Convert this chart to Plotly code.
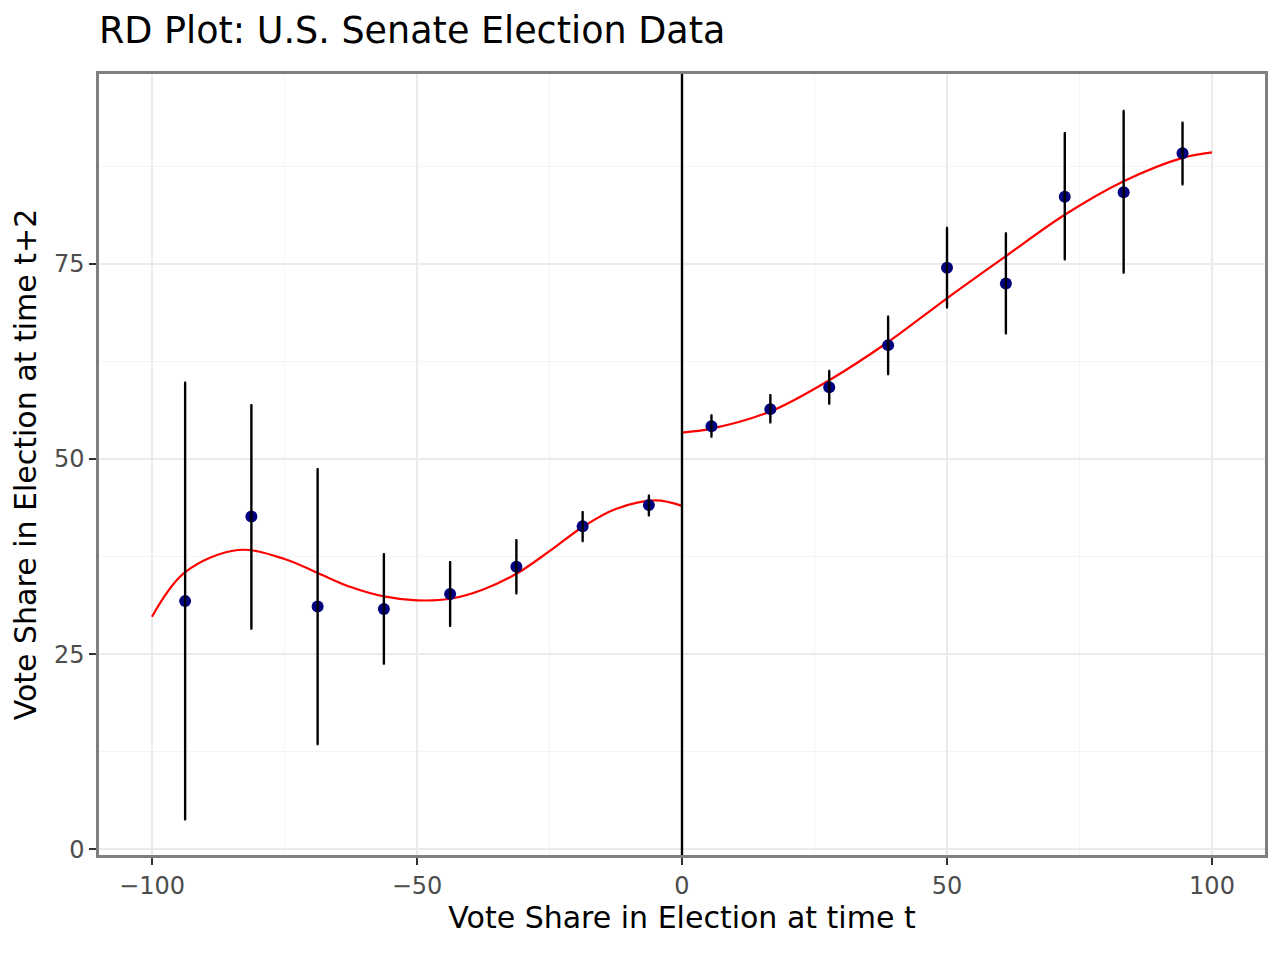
import plotly.graph_objects as go

# ---- data ----
left_x = [-93.75, -81.25, -68.75, -56.25, -43.75, -31.25, -18.75, -6.25]
left_y = [31.8, 42.65, 31.1, 30.8, 32.7, 36.2, 41.4, 44.1]
left_lo = [3.85, 28.3, 13.5, 23.8, 28.65, 32.8, 39.5, 42.8]
left_hi = [59.8, 56.9, 48.7, 37.8, 36.8, 39.6, 43.2, 45.3]

right_x = [5.56, 16.67, 27.78, 38.89, 50.0, 61.11, 72.22, 83.33, 94.44]
right_y = [54.2, 56.4, 59.2, 64.6, 74.5, 72.5, 83.6, 84.2, 89.2]
right_lo = [52.9, 54.7, 57.1, 60.9, 69.45, 66.1, 75.6, 73.9, 85.2]
right_hi = [55.6, 58.2, 61.3, 68.25, 79.6, 78.9, 91.75, 94.6, 93.1]

fit_left_x = [-100, -93.75, -83.75, -75, -68.75, -62.5, -56.25,
              -50, -43.75, -37.5, -31.25, -25, -18.75, -12.5, -5, 0]
fit_left_y = [29.8, 35.5, 38.35, 37.2, 35.4, 33.6, 32.4,
              31.9, 32.1, 33.3, 35.3, 38.2, 41.3, 43.6, 44.7, 44.0]
fit_right_x = [0, 5.56, 16.67, 27.78, 38.89, 50, 61.11, 72.22, 83.33, 94.44, 100]
fit_right_y = [53.4, 53.9, 56.1, 60.1, 65.0, 70.6, 76.0, 81.3, 85.6, 88.6, 89.3]

x_ticks = [-100, -50, 0, 50, 100]
y_ticks = [0, 25, 50, 75]

TITLE = "RD Plot: U.S. Senate Election Data"
XLAB = "Vote Share in Election at time t"
YLAB = "Vote Share in Election at time t+2"

FONT = "DejaVu Sans"

fig = go.Figure()

# fitted curves
for fx, fy in [(fit_left_x, fit_left_y), (fit_right_x, fit_right_y)]:
    fig.add_trace(go.Scatter(x=fx, y=fy, mode="lines",
                             line=dict(color="#ff0000", width=2.2, shape="spline", smoothing=1.0),
                             hoverinfo="skip", showlegend=False))

# binned means (points)
all_x = left_x + right_x
all_y = left_y + right_y
all_lo = left_lo + right_lo
all_hi = left_hi + right_hi
fig.add_trace(go.Scatter(x=all_x, y=all_y, mode="markers",
                         marker=dict(color="#00007f", size=12, line=dict(width=0)),
                         showlegend=False))

# error bars drawn on top of the points
fig.add_trace(go.Scatter(
    x=all_x, y=all_y, mode="markers",
    marker=dict(color="rgba(0,0,0,0)", size=1),
    error_y=dict(type="data", symmetric=False,
                 array=[h - y for h, y in zip(all_hi, all_y)],
                 arrayminus=[y - l for y, l in zip(all_y, all_lo)],
                 color="black", thickness=2.4, width=1),
    showlegend=False, hoverinfo="skip"))

# cutoff line
fig.add_shape(type="line", x0=0, x1=0, xref="x", y0=0, y1=1, yref="paper",
              line=dict(color="black", width=2.4))

axis_common = dict(
    showline=True, mirror=True, linecolor="#7f7f7f", linewidth=2.5,
    ticks="outside", ticklen=7, tickwidth=2, tickcolor="#333333",
    tickfont=dict(family=FONT, size=24, color="#4d4d4d"),
    showgrid=True, gridcolor="#ebebeb", gridwidth=1.5,
    zeroline=False,
)

fig.update_layout(
    width=1280, height=960,
    margin=dict(l=99, r=13, t=74, b=105),
    paper_bgcolor="white", plot_bgcolor="white",
    font=dict(family=FONT, color="black"),
    title=dict(text=TITLE, x=99/1280, xanchor="left", xref="container",
               y=1 - 30/960, yanchor="middle", yref="container",
               font=dict(family=FONT, size=36.5, color="black")),
    xaxis=dict(range=[-110, 110], tickvals=x_ticks,
               title=dict(text=XLAB, font=dict(family=FONT, size=30, color="black"), standoff=9),
               minor=dict(dtick=25, tick0=0, showgrid=True, gridcolor="#f4f4f4", gridwidth=1, ticks=""),
               **axis_common),
    yaxis=dict(range=[-0.73, 99.34], tickvals=y_ticks,
               title=dict(text=YLAB, font=dict(family=FONT, size=30, color="black"), standoff=9),
               minor=dict(dtick=12.5, tick0=0, showgrid=True, gridcolor="#f4f4f4", gridwidth=1, ticks=""),
               **axis_common),
)

fig.write_html("out.html")
